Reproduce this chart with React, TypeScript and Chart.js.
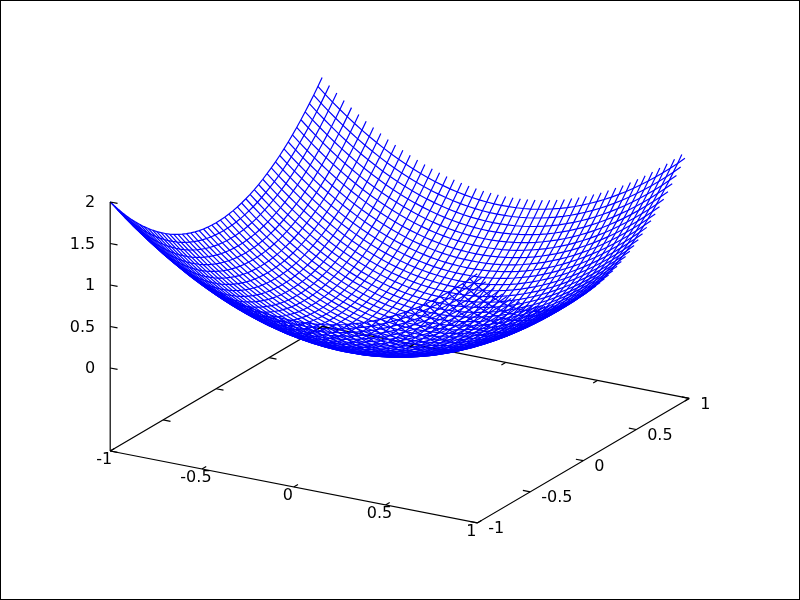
import React, { useEffect, useRef } from "react";
import { Chart, registerables } from "chart.js";

Chart.register(...registerables);

const gridValues = [
  -1, -0.96, -0.92, -0.88, -0.84, -0.8, -0.76, -0.72, -0.68, -0.64, -0.6, -0.56, -0.52,
  -0.48, -0.44, -0.4, -0.36, -0.32, -0.28, -0.24, -0.2, -0.16, -0.12, -0.08, -0.04, 0,
  0.04, 0.08, 0.12, 0.16, 0.2, 0.24, 0.28, 0.32, 0.36, 0.4, 0.44, 0.48, 0.52, 0.56, 0.6,
  0.64, 0.68, 0.72, 0.76, 0.8, 0.84, 0.88, 0.92, 0.96, 1,
];
const heightProfile = [
  1, 0.9216, 0.8464, 0.7744, 0.7056, 0.64, 0.5776, 0.5184, 0.4624, 0.4096, 0.36, 0.3136,
  0.2704, 0.2304, 0.1936, 0.16, 0.1296, 0.1024, 0.0784, 0.0576, 0.04, 0.0256, 0.0144,
  0.0064, 0.0016, 0, 0.0016, 0.0064, 0.0144, 0.0256, 0.04, 0.0576, 0.0784, 0.1024, 0.1296,
  0.16, 0.1936, 0.2304, 0.2704, 0.3136, 0.36, 0.4096, 0.4624, 0.5184, 0.5776, 0.64, 0.7056,
  0.7744, 0.8464, 0.9216, 1,
];
const xTicks = [-1, -0.5, 0, 0.5, 1];
const yTicks = [-1, -0.5, 0, 0.5, 1];
const zTicks = [0, 0.5, 1, 1.5, 2];
const xTickLabels = ["-1", "-0.5", "0", "0.5", "1"];
const yTickLabels = ["-1", "-0.5", "0", "0.5", "1"];
const zTickLabels = ["0", "0.5", "1", "1.5", "2"];
const zBase = -1;
const zTop = 2;
const tickLength = 0.04;

const FONT = '16px "DejaVu Sans"';
const BLUE = "#0000ff";
const BLACK = "#000000";

// gnuplot's default view (rot_x 60, rot_z 30), orthographic
const project = (x: number, y: number, z: number) => ({
  x: x * 0.866 + y * 0.5,
  y: -x * 0.25 + y * 0.433 + ((z - 0.5) / 1.5) * 0.866,
});

const line = (points: { x: number; y: number }[], color: string, order: number, width: number) => ({
  data: points,
  borderColor: color,
  backgroundColor: color,
  borderWidth: width,
  pointRadius: 0,
  showLine: true,
  tension: 0,
  order,
});

function buildDatasets() {
  const sets: any[] = [];
  const last = gridValues.length - 1;
  const AXIS = 1.2;
  const MESH = 1.2;
  // back of the base, under the surface
  sets.push(line([project(-1, -1, zBase), project(-1, 1, zBase), project(1, 1, zBase)], BLACK, 3, AXIS));
  // surface: the last row of each family is not drawn in the reference
  for (let i = 0; i < last; i++) {
    sets.push(
      line(gridValues.map((y, j) => project(gridValues[i], y, heightProfile[i] + heightProfile[j])), BLUE, 2, MESH),
    );
    sets.push(
      line(gridValues.map((x, j) => project(x, gridValues[i], heightProfile[j] + heightProfile[i])), BLUE, 2, MESH),
    );
  }
  // front of the base and the z axis
  sets.push(line([project(-1, -1, zBase), project(1, -1, zBase), project(1, 1, zBase)], BLACK, 1, AXIS));
  sets.push(line([project(-1, -1, zBase), project(-1, -1, zTop)], BLACK, 1, AXIS));
  xTicks.forEach((x) => {
    sets.push(line([project(x, -1, zBase), project(x, -1 + tickLength, zBase)], BLACK, 1, AXIS));
    sets.push(line([project(x, 1, zBase), project(x, 1 - tickLength, zBase)], BLACK, 1, AXIS));
  });
  yTicks.forEach((y) => {
    sets.push(line([project(1, y, zBase), project(1 - tickLength, y, zBase)], BLACK, 1, AXIS));
    sets.push(line([project(-1, y, zBase), project(-1 + tickLength, y, zBase)], BLACK, 1, AXIS));
  });
  zTicks.forEach((z) => {
    sets.push(line([project(-1, -1, z), project(-1 + tickLength, -1, z)], BLACK, 1, AXIS));
  });
  return sets;
}

const axisLabels = {
  id: "axisLabels",
  afterDraw(chart: any) {
    const { ctx, scales } = chart;
    const at = (p: { x: number; y: number }) => ({
      x: scales.x.getPixelForValue(p.x),
      y: scales.y.getPixelForValue(p.y),
    });
    ctx.save();
    ctx.font = FONT;
    ctx.fillStyle = BLACK;
    ctx.textBaseline = "middle";
    ctx.textAlign = "center";
    xTicks.forEach((x, i) => {
      const p = at(project(x, -1, zBase));
      ctx.fillText(xTickLabels[i], p.x - 6, p.y + 9);
    });
    ctx.textAlign = "left";
    yTicks.forEach((y, i) => {
      const p = at(project(1, y, zBase));
      ctx.fillText(yTickLabels[i], p.x + 11, p.y + 6);
    });
    ctx.textAlign = "right";
    zTicks.forEach((z, i) => {
      const p = at(project(-1, -1, z));
      ctx.fillText(zTickLabels[i], p.x - 15, p.y + 1);
    });
    // image frame
    ctx.strokeStyle = BLACK;
    ctx.lineWidth = 1;
    ctx.strokeRect(0.5, 0.5, chart.width - 1, chart.height - 1);
    ctx.restore();
  },
};

export default function App() {
  const ref = useRef<HTMLCanvasElement>(null);
  useEffect(() => {
    document.body.style.margin = "0";
    const chart = new Chart(ref.current as HTMLCanvasElement, {
      type: "scatter",
      data: { datasets: buildDatasets() },
      options: {
        animation: false,
        responsive: false,
        events: [],
        layout: { padding: 0 },
        clip: false,
        plugins: { legend: { display: false }, tooltip: { enabled: false }, title: { display: false } },
        scales: {
          x: { type: "linear", display: false, min: -1.886, max: 1.889 },
          y: { type: "linear", display: false, min: -2.085, max: 2.0875 },
        },
      } as any,
      plugins: [axisLabels],
    });
    return () => chart.destroy();
  }, []);
  return <canvas ref={ref} width={800} height={600} style={{ display: "block", background: "#ffffff" }} />;
}
